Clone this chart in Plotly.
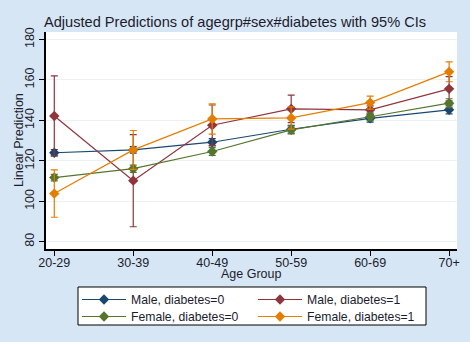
import plotly.graph_objects as go

categories = ["20-29", "30-39", "40-49", "50-59", "60-69", "70+"]
series_names = ["Male, diabetes=0", "Male, diabetes=1", "Female, diabetes=0", "Female, diabetes=1"]

male_d0 = [124.0, 125.4, 129.2, 135.6, 141.0, 145.2]
male_d0_ci = [1.6, 1.6, 1.8, 1.9, 1.9, 2.0]
male_d1 = [142.2, 110.2, 137.6, 145.7, 145.2, 155.6]
male_d1_ci = [19.8, 22.8, 10.0, 6.8, 2.0, 6.0]
female_d0 = [111.7, 116.1, 124.6, 135.3, 141.8, 148.5]
female_d0_ci = [1.6, 1.8, 1.9, 2.0, 1.9, 2.2]
female_d1 = [103.8, 125.4, 140.7, 141.2, 148.8, 164.0]
female_d1_ci = [11.7, 9.6, 7.5, 5.5, 3.2, 4.9]

values = [male_d0, male_d1, female_d0, female_d1]
cis = [male_d0_ci, male_d1_ci, female_d0_ci, female_d1_ci]
colors = ["#1a476f", "#90353b", "#55752f", "#e37e00"]
legend_ids = ["legend", "legend", "legend2", "legend2"]

x_idx = list(range(len(categories)))

fig = go.Figure()
for name, vals, ci, col, lg in zip(series_names, values, cis, colors, legend_ids):
    fig.add_trace(go.Scatter(
        x=x_idx, y=vals, name=name, mode="lines+markers", legend=lg,
        line=dict(color=col, width=1.2),
        marker=dict(symbol="diamond", size=8, color=col),
        error_y=dict(type="data", array=ci, visible=True, color=col, thickness=1.2, width=3.5),
    ))

font_color = "#1c1c2e"
# plot area in pixels: x 46..457, y 32..249
PW, PH = 411, 217
def px_x(p):
    return (p - 46) / PW
def px_y(p):
    return (249 - p) / PH

leg_common = dict(orientation="h", xanchor="left", yanchor="top",
                  bgcolor="rgba(0,0,0,0)", borderwidth=0,
                  entrywidth=117, entrywidthmode="pixels", itemwidth=44,
                  font=dict(size=12.2, color=font_color))

fig.update_layout(
    width=470, height=342,
    margin=dict(l=46, r=13, t=32, b=93, autoexpand=False),
    paper_bgcolor="#d6e6f4",
    plot_bgcolor="white",
    font=dict(family="Liberation Sans, Arial, sans-serif", size=12, color=font_color),
    title=dict(text="Adjusted Predictions of agegrp#sex#diabetes with 95% CIs",
               x=44 / 470, xanchor="left", y=1 - 22 / 342, yanchor="middle",
               font=dict(size=14.6, color=font_color)),
    showlegend=True,
    legend=dict(x=px_x(77), y=px_y(285), **leg_common),
    legend2=dict(x=px_x(77), y=px_y(302), **leg_common),
    xaxis=dict(range=[-0.105, 5.1], tickvals=x_idx, ticktext=categories,
               showgrid=False, zeroline=False, showline=True, linecolor="black", linewidth=1.5,
               ticks="outside", ticklen=5, tickcolor="black", tickfont=dict(size=12.5),
               ticklabelstandoff=-4),
    yaxis=dict(range=[76.4, 183.7], tickvals=[80, 100, 120, 140, 160, 180], tickangle=-90,
               showgrid=True, gridcolor="#eaf2f3", gridwidth=1, zeroline=False,
               showline=True, linecolor="black", linewidth=1.5,
               ticks="outside", ticklen=5, tickcolor="black", tickfont=dict(size=12.5)),
    shapes=[dict(type="rect", xref="paper", yref="paper",
                 x0=px_x(78), x1=px_x(426), y0=px_y(287), y1=px_y(325),
                 fillcolor="white", line=dict(color="black", width=1), layer="below")],
    annotations=[
        dict(text="Age Group", xref="paper", yref="paper", x=0.5, y=px_y(274),
             xanchor="center", yanchor="middle", showarrow=False, font=dict(size=12.5, color=font_color)),
        dict(text="Linear Prediction", xref="paper", yref="paper", x=px_x(19), y=px_y(140),
             xanchor="center", yanchor="middle", textangle=-90, showarrow=False,
             font=dict(size=12.5, color=font_color)),
    ],
)

fig.write_html("out.html")
